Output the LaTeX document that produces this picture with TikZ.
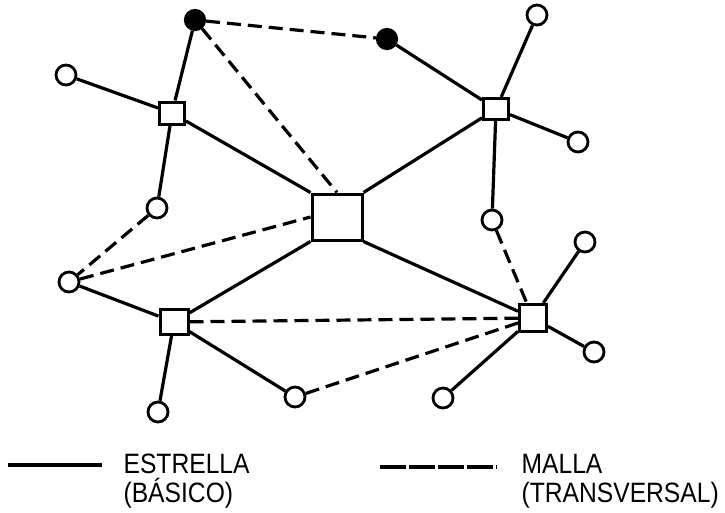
\documentclass[tikz,border=0pt]{standalone}
\usepackage{fontspec}
\setmainfont{Liberation Sans}[FakeStretch=0.88]

\begin{document}
\begin{tikzpicture}[x=1pt,y=-1pt,line width=3.2pt,
		sq/.style={draw,fill=white,inner sep=0pt,line width=3pt},
		ring/.style={draw,circle,fill=white,inner sep=0pt,minimum size=20pt,line width=2.8pt},
		dot/.style={draw,circle,fill=black,inner sep=0pt,minimum size=19pt},
		mesh/.style={dash pattern=on 14pt off 7pt},
		lbl/.style={anchor=base west,inner sep=0pt,font=\fontsize{28}{30}\selectfont}]
			\useasboundingbox (0,0) rectangle (725,512);

			% squares
			\node[sq,minimum width=50pt,minimum height=46pt] (hub) at (337,217) {};
			\node[sq,minimum width=25pt,minimum height=22pt] (sqTL) at (172,113) {};
			\node[sq,minimum width=25pt,minimum height=21pt] (sqTR) at (496,109) {};
			\node[sq,minimum width=28pt,minimum height=25pt] (sqBL) at (174,322) {};
			\node[sq,minimum width=27pt,minimum height=27pt] (sqBR) at (533,318) {};

			% filled and open circles
			\node[dot] (fA) at (195,20) {};
			\node[dot] (fB) at (387,39) {};
			\node[ring] (cTL) at (66,75) {};
			\node[ring] (cTR) at (537,15) {};
			\node[ring] (cR) at (578,142) {};
			\node[ring] (cL1) at (157,208) {};
			\node[ring] (cR1) at (492,220) {};
			\node[ring] (cL2) at (69,282) {};
			\node[ring] (cR2) at (585,242) {};
			\node[ring] (cR3) at (594,352) {};
			\node[ring] (cB1) at (158,412) {};
			\node[ring] (cB2) at (295,397) {};
			\node[ring] (cB3) at (443,398) {};

			% estrella
			\draw (fA) -- (sqTL);
			\draw (sqTL) -- (cTL);
			\draw (sqTL) -- (cL1);
			\draw (sqTL) -- (hub.north west);
			\draw (fB) -- (sqTR);
			\draw (sqTR) -- (cTR);
			\draw (sqTR) -- (cR);
			\draw (sqTR) -- (cR1);
			\draw (sqTR) -- (hub.north east);
			\draw (sqBL) -- (hub.south west);
			\draw (sqBL) -- (cL2);
			\draw (sqBL) -- (cB1);
			\draw (sqBL) -- (cB2);
			\draw (sqBR) -- (hub.south east);
			\draw (sqBR) -- (cR2);
			\draw (sqBR) -- (cR3);
			\draw (sqBR) -- (cB3);

			% malla
			\draw[mesh] (fA) -- (fB);
			\draw[mesh] (fA) -- (hub.north);
			\draw[mesh] (cL1) -- (cL2);
			\draw[mesh] (cL2) -- (hub.west);
			\draw[mesh] (sqBL) -- (sqBR);
			\draw[mesh] (cB2) -- (sqBR);
			\draw[mesh] (cR1) -- (sqBR);

			% leyenda
			\coordinate (solA) at (8,465);
			\coordinate (solB) at (102,465);
			\coordinate (dshA) at (380,467);
			\coordinate (dshB) at (497,467);
			\draw[line width=4pt] (solA) -- (solB);
			\draw[line width=4pt,dash pattern=on 26pt off 3pt] (dshA) -- (dshB);
			\node[lbl] (estr) at (122,473) {ESTRELLA};
			\node[lbl] (basi) at (122,502) {(BÁSICO)};
			\node[lbl] (mall) at (520,473) {MALLA};
			\node[lbl] (trans) at (520,502) {(TRANSVERSAL)};
		\end{tikzpicture}
\end{document}
